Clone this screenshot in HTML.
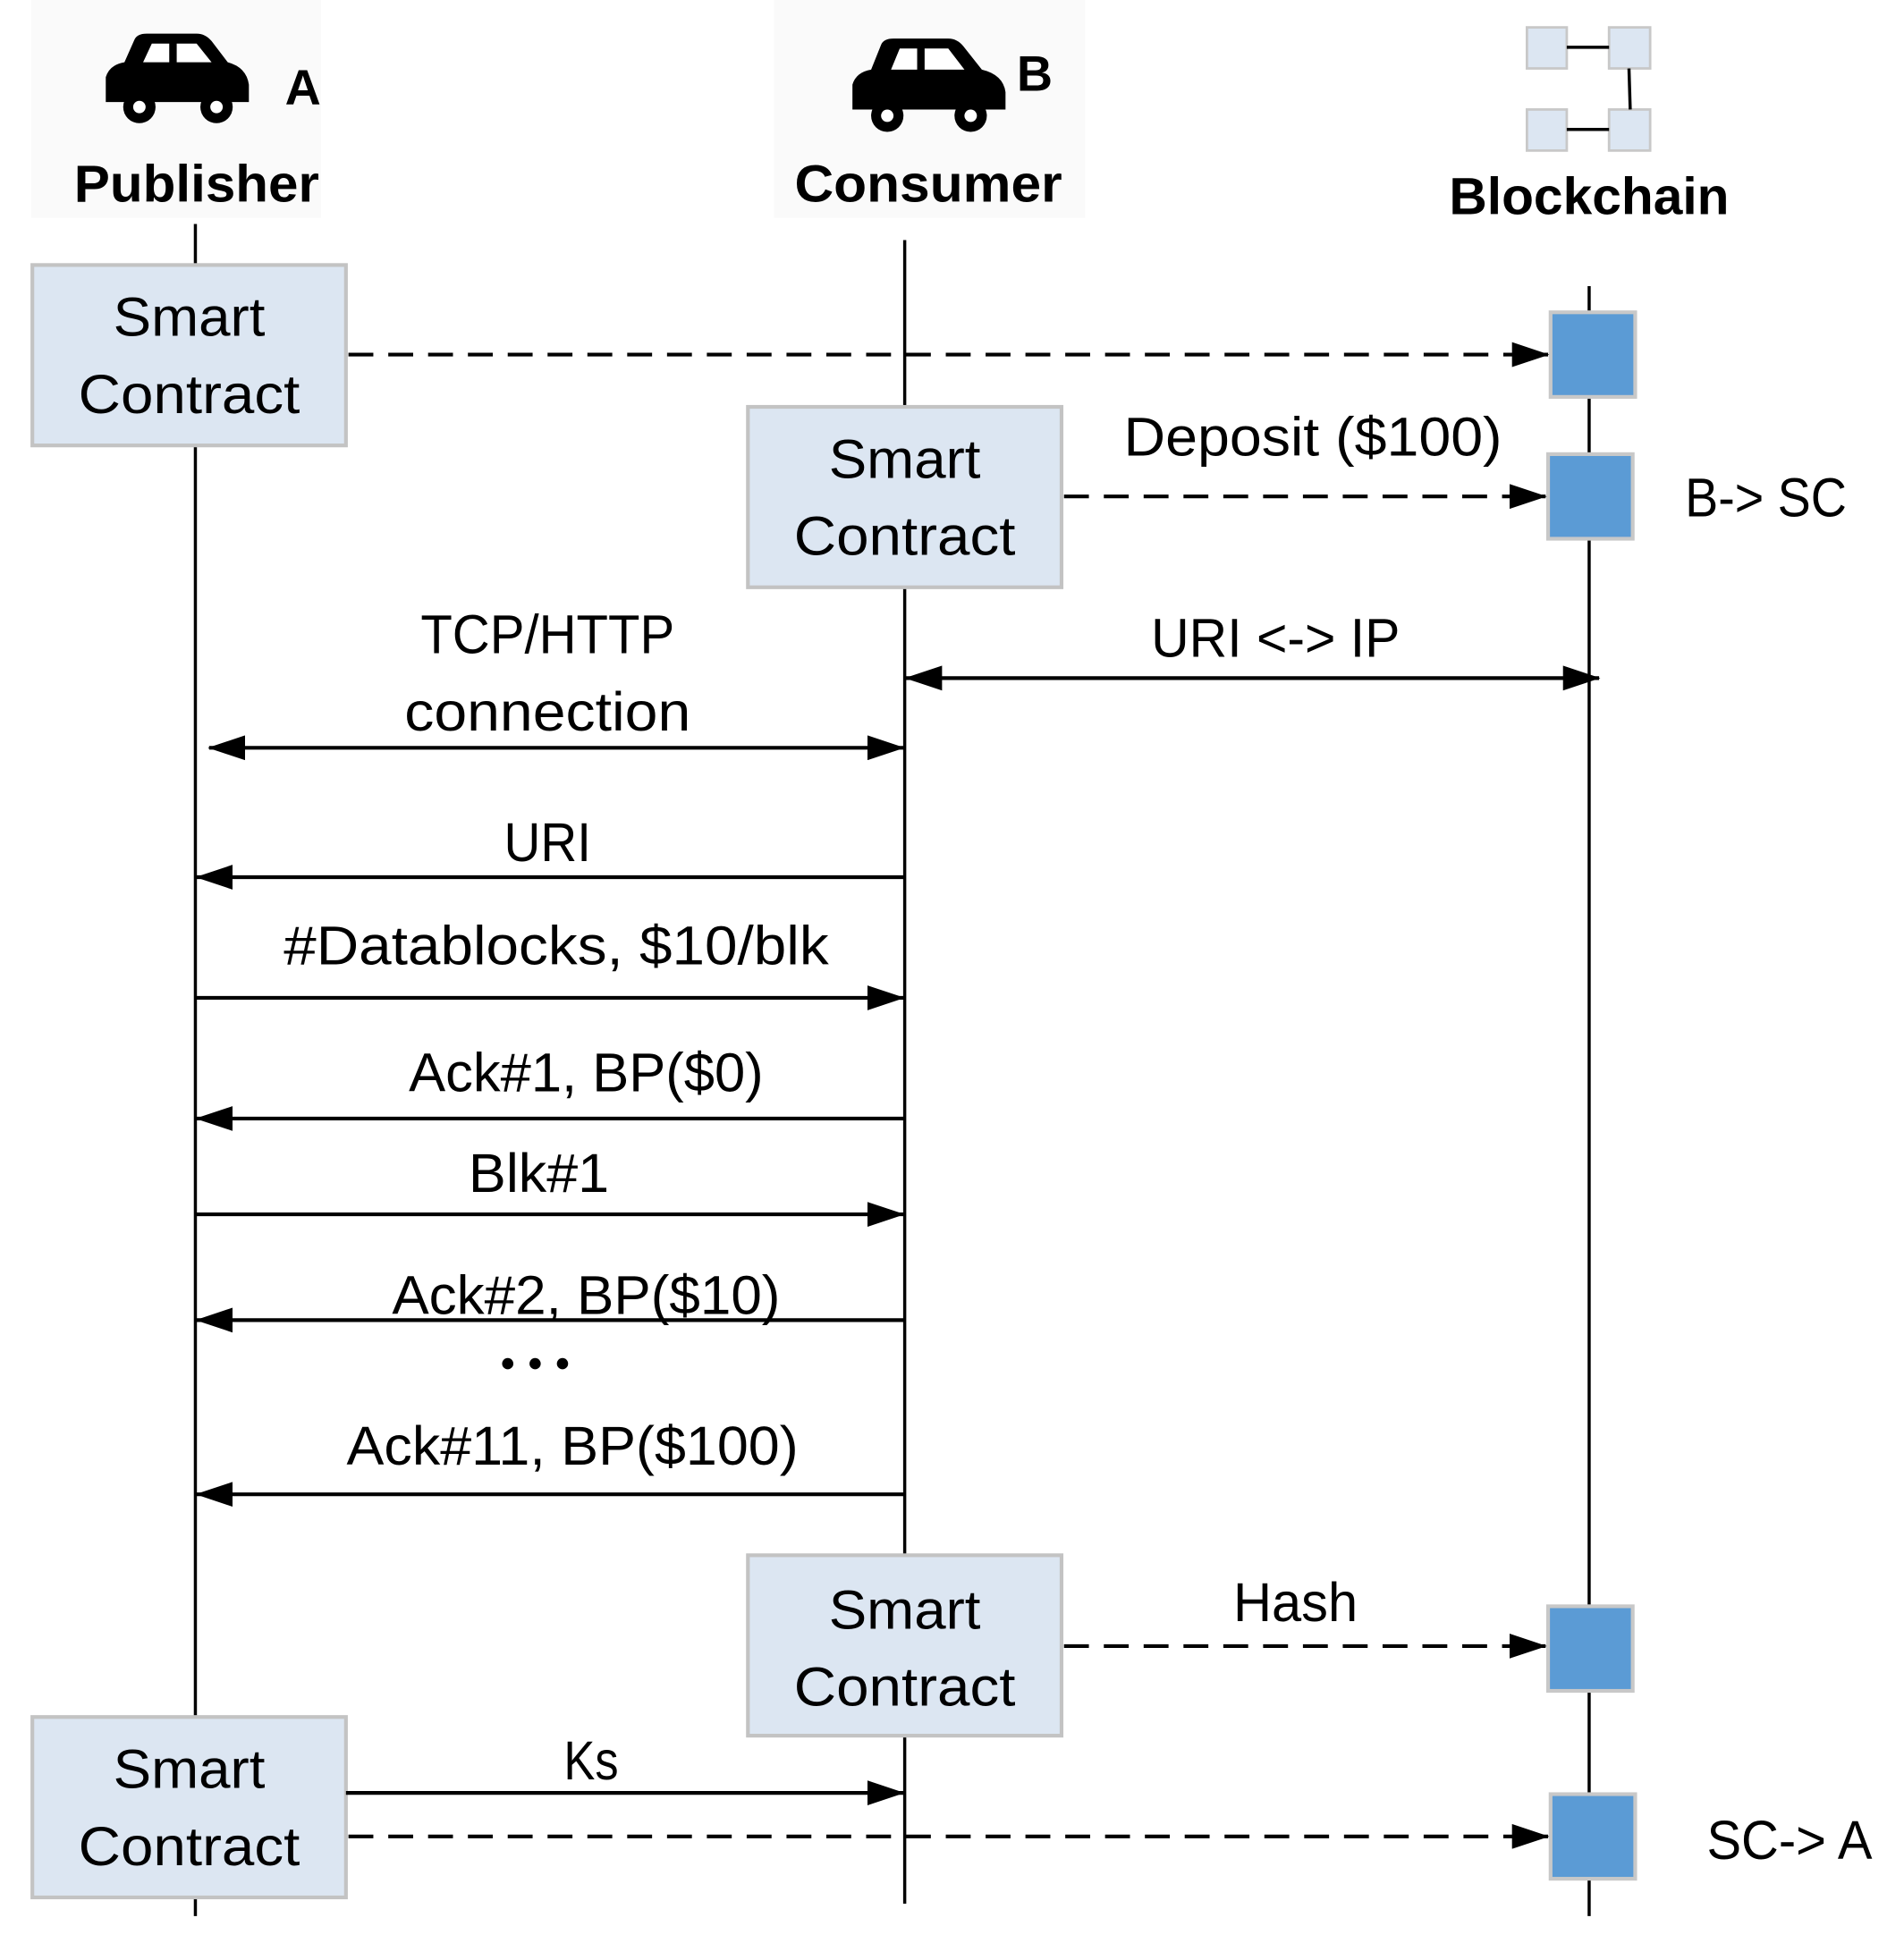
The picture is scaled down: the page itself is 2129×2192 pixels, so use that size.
<!DOCTYPE html>
<html><head><meta charset="utf-8"><style>html,body{margin:0;padding:0;background:#fff;}svg{display:block}</style></head>
<body>
<svg width="2129" height="2192" viewBox="0 0 1530 1575.3" preserveAspectRatio="none" xmlns="http://www.w3.org/2000/svg" font-family="Liberation Sans, sans-serif">
<defs>
<marker id="ah" viewBox="0 0 30 20" refX="29" refY="10" markerWidth="30" markerHeight="20" markerUnits="userSpaceOnUse" orient="auto-start-reverse"><path d="M0,0 L30,10 L0,20 Z" fill="#000"/></marker>
</defs>
<!-- faint header backgrounds -->
<rect x="25" y="0" width="233" height="175" fill="#fafafa"/>
<rect x="622" y="0" width="250" height="175" fill="#fafafa"/>
<!-- lifelines -->
<g stroke="#000" stroke-width="2.5">
<line x1="157" y1="180" x2="157" y2="1540"/>
<line x1="727" y1="193" x2="727" y2="1530"/>
<line x1="1277" y1="230" x2="1277" y2="1540"/>
</g>
<!-- cars -->
<g fill="#000">
<path d="M85,82 L85,62 Q88,52 100,50 L108,32 Q110,27 118,27 L158,27 Q165,27 170,33 L183,50 Q198,54 200,68 L200,82 Z"/>
<circle cx="112" cy="86" r="13"/><circle cx="174" cy="86" r="13"/>
<path d="M685,88 L685,68 Q688,58 700,56 L708,36 Q710,31 718,31 L762,31 Q769,31 774,37 L789,56 Q806,60 808,74 L808,88 Z"/>
<circle cx="713" cy="93" r="13"/><circle cx="780" cy="93" r="13"/>
</g>
<g fill="#fff"><path d="M115,50 L122,35 L136,35 L136,50 Z"/><path d="M142,35 L158,35 L170,50 L142,50 Z"/>
<path d="M716,56 L723,39 L737,39 L737,56 Z"/><path d="M743,39 L762,39 L775,56 L743,56 Z"/>
<circle cx="112" cy="86" r="5"/><circle cx="174" cy="86" r="5"/><circle cx="713" cy="93" r="5"/><circle cx="780" cy="93" r="5"/></g>
<text x="229" y="84" font-size="40" font-weight="bold">A</text>
<text x="817" y="73" font-size="40" font-weight="bold">B</text>
<!-- blockchain icon -->
<g fill="#dce6f2" stroke="#c8c8c8" stroke-width="2">
<rect x="1227" y="22" width="32" height="33"/><rect x="1293" y="22" width="33" height="33"/>
<rect x="1227" y="88" width="32" height="33"/><rect x="1293" y="88" width="33" height="33"/>
</g>
<g stroke="#000" stroke-width="2.5"><line x1="1259" y1="38" x2="1293" y2="38"/><line x1="1259" y1="104" x2="1293" y2="104"/><line x1="1309" y1="55" x2="1310" y2="88"/></g>
<!-- headers -->
<g font-size="42" font-weight="bold" text-anchor="middle">
<text x="158" y="162" textLength="197" lengthAdjust="spacingAndGlyphs">Publisher</text>
<text x="746" y="162" textLength="215" lengthAdjust="spacingAndGlyphs">Consumer</text>
<text x="1277" y="172" textLength="225" lengthAdjust="spacingAndGlyphs">Blockchain</text>
</g>
<!-- smart contract boxes -->
<g fill="#dce6f2" stroke="#c3c3c3" stroke-width="3">
<rect x="26" y="213" width="252" height="145"/>
<rect x="601" y="327" width="252" height="145"/>
<rect x="601" y="1250" width="252" height="145"/>
<rect x="26" y="1380" width="252" height="145"/>
</g>
<g font-size="44" text-anchor="middle">
<text x="152" y="270" textLength="122" lengthAdjust="spacingAndGlyphs">Smart</text>
<text x="152" y="332" textLength="178" lengthAdjust="spacingAndGlyphs">Contract</text>
<text x="727" y="384" textLength="122" lengthAdjust="spacingAndGlyphs">Smart</text>
<text x="727" y="446" textLength="178" lengthAdjust="spacingAndGlyphs">Contract</text>
<text x="727" y="1309" textLength="122" lengthAdjust="spacingAndGlyphs">Smart</text>
<text x="727" y="1371" textLength="178" lengthAdjust="spacingAndGlyphs">Contract</text>
<text x="152" y="1437" textLength="122" lengthAdjust="spacingAndGlyphs">Smart</text>
<text x="152" y="1499" textLength="178" lengthAdjust="spacingAndGlyphs">Contract</text>
</g>
<!-- blue blocks -->
<g fill="#5b9bd5" stroke="#c8c8c8" stroke-width="3">
<rect x="1246" y="251" width="68" height="68"/>
<rect x="1244" y="365" width="68" height="68"/>
<rect x="1244" y="1291" width="68" height="68"/>
<rect x="1246" y="1442" width="68" height="68"/>
</g>
<!-- dashed arrows -->
<g stroke="#000" stroke-width="3" stroke-dasharray="20,12" fill="none" marker-end="url(#ah)">
<line x1="280" y1="285" x2="1244" y2="285"/>
<line x1="855" y1="399" x2="1242" y2="399"/>
<line x1="855" y1="1323" x2="1242" y2="1323"/>
<line x1="280" y1="1476" x2="1244" y2="1476"/>
</g>
<!-- solid arrows -->
<g stroke="#000" stroke-width="3" fill="none">
<line x1="728" y1="545" x2="1285" y2="545" marker-start="url(#ah)" marker-end="url(#ah)"/>
<line x1="168" y1="601" x2="726" y2="601" marker-start="url(#ah)" marker-end="url(#ah)"/>
<line x1="727" y1="705" x2="158" y2="705" marker-end="url(#ah)"/>
<line x1="157" y1="802" x2="726" y2="802" marker-end="url(#ah)"/>
<line x1="727" y1="899" x2="158" y2="899" marker-end="url(#ah)"/>
<line x1="157" y1="976" x2="726" y2="976" marker-end="url(#ah)"/>
<line x1="727" y1="1061" x2="158" y2="1061" marker-end="url(#ah)"/>
<line x1="727" y1="1201" x2="158" y2="1201" marker-end="url(#ah)"/>
<line x1="278" y1="1441" x2="726" y2="1441" marker-end="url(#ah)"/>
</g>
<!-- labels -->
<g font-size="44" text-anchor="middle">
<text x="1055" y="366" textLength="304" lengthAdjust="spacingAndGlyphs">Deposit ($100)</text>
<text x="1419" y="415" textLength="130" lengthAdjust="spacingAndGlyphs">B-&gt; SC</text>
<text x="1025" y="528" textLength="200" lengthAdjust="spacingAndGlyphs">URI &lt;-&gt; IP</text>
<text x="440" y="525" textLength="204" lengthAdjust="spacingAndGlyphs">TCP/HTTP</text>
<text x="440" y="587" textLength="230" lengthAdjust="spacingAndGlyphs">connection</text>
<text x="440" y="692" textLength="70" lengthAdjust="spacingAndGlyphs">URI</text>
<text x="447" y="775" textLength="438" lengthAdjust="spacingAndGlyphs">#Datablocks, $10/blk</text>
<text x="471" y="877" textLength="285" lengthAdjust="spacingAndGlyphs">Ack#1, BP($0)</text>
<text x="433" y="958" textLength="113" lengthAdjust="spacingAndGlyphs">Blk#1</text>
<text x="471" y="1056" textLength="312" lengthAdjust="spacingAndGlyphs">Ack#2, BP($10)</text>
<text x="460" y="1177" textLength="363" lengthAdjust="spacingAndGlyphs">Ack#11, BP($100)</text>
<text x="1041" y="1303" textLength="100" lengthAdjust="spacingAndGlyphs">Hash</text>
<text x="475" y="1430" textLength="44" lengthAdjust="spacingAndGlyphs">Ks</text>
<text x="1438" y="1494" textLength="133" lengthAdjust="spacingAndGlyphs">SC-&gt; A</text>
</g>
<g fill="#000"><circle cx="408" cy="1096" r="4.5"/><circle cx="430" cy="1096" r="4.5"/><circle cx="452" cy="1096" r="4.5"/></g>
</svg>
</body></html>
